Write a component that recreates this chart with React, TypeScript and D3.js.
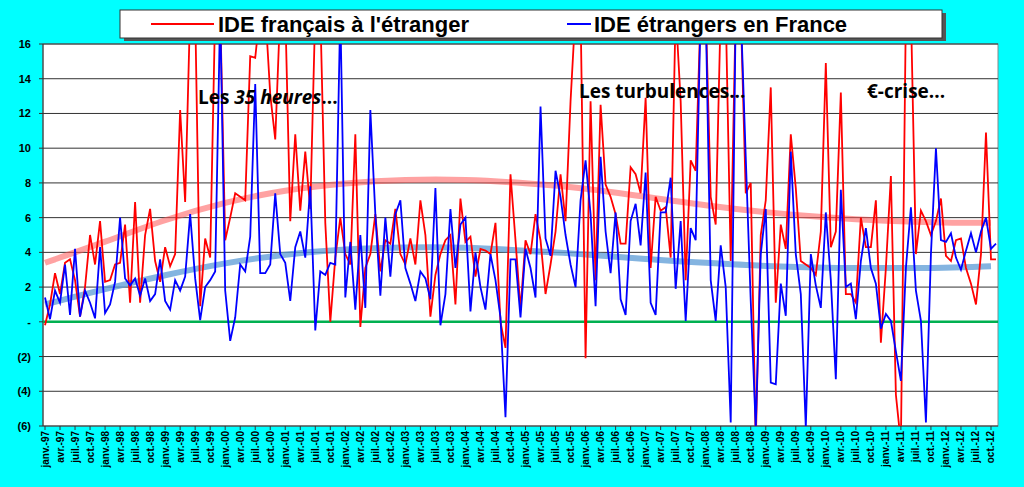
import React from 'react';
import * as d3 from 'd3';

// monthly series, janv.-97 .. oct.-12 (values above 16 / below -6 are clipped)
const frenchAbroad: number[] = [
  -0.2, 1.0, 2.8, 1.6, 3.4, 3.6, 2.4, 0.3, 2.0, 5.0, 3.3, 5.8, 2.3, 2.4, 3.3, 3.4,
  5.6, 1.1, 6.9, 1.1, 5.0, 6.5, 3.5, 2.3, 4.3, 3.2, 3.9, 12.2, 6.9, 18, 18, 0.9,
  4.8, 3.7, 18, 18, 4.7, 6.0, 7.4, 7.2, 7.0, 15.3, 15.2, 18, 18, 13.1, 10.5, 18,
  18, 5.8, 10.8, 6.4, 9.8, 6.5, 18, 18, 5.7, 0.0, 3.7, 6.0, 3.9, 3.3, 10.8, -0.3,
  3.1, 3.9, 6.2, 2.9, 4.7, 4.5, 6.5, 3.9, 3.3, 4.8, 3.3, 7.0, 5.0, 0.3, 2.7, 3.9,
  4.7, 5.0, 1.0, 7.1, 4.6, 4.9, 2.6, 4.2, 4.1, 3.9, 5.7, 0.0, -1.5, 8.5, 4.7, 0.7,
  4.7, 3.9, 6.2, 4.7, 1.6, 3.3, 5.2, 8.5, 5.8, 12.7, 18, 18, -2.1, 12.7, 2.4, 12.5,
  7.9, 7.2, 6.2, 4.5, 4.5, 8.9, 8.5, 7.4, 12.9, 3.1, 7.2, 6.4, 6.6, 3.7, 18, 12.7,
  2.4, 9.3, 8.7, 18, 18, 7.2, 5.6, 18, 18, 3.5, 18, 18, 7.4, 8.0, -7, 5.0,
  7.0, 13.5, 1.1, 5.6, 4.2, 10.8, 7.7, 3.5, 3.3, 3.1, 2.7, 5.2, 14.9, 4.3, 5.2, 13.2,
  1.6, 1.6, 1.1, 6.0, 4.3, 4.3, 7.0, -1.2, 3.1, 8.4, -4.2, -7, 18, 18, 3.9, 6.4,
  5.8, 5.0, 5.8, 7.1, 3.8, 3.5, 4.7, 4.8, 3.1, 2.2, 1.0, 3.9, 10.9, 3.6, 3.6,
];

const foreignInFrance: number[] = [
  1.4, 0.15, 1.8, 1.1, 3.3, 0.4, 4.2, 0.3, 1.8, 1.1, 0.2, 4.3, 0.5, 1.0, 2.3, 6.0,
  2.5, 2.1, 2.5, 1.5, 2.5, 1.2, 1.6, 3.6, 1.2, 0.7, 2.4, 1.8, 2.6, 6.2, 2.5, 0.1,
  2.0, 2.4, 2.9, 18, 1.8, -1.1, 0.25, 3.3, 2.9, 4.9, 13.7, 2.8, 2.8, 3.3, 7.4, 3.9,
  3.4, 1.2, 4.3, 5.2, 3.7, 7.8, -0.5, 2.9, 2.7, 3.4, 3.3, 18, 1.4, 4.6, 0.7, 5.0,
  0.8, 12.2, 6.2, 1.5, 6.0, 2.6, 6.2, 7.0, 3.1, 2.2, 1.2, 2.9, 2.5, 1.3, 7.7, -0.2,
  1.6, 6.5, 3.1, 5.6, 6.0, 0.6, 4.0, 2.0, 0.7, 3.9, 2.4, 0.25, -5.5, 3.6, 3.6, 0.25,
  4.2, 3.1, 1.4, 12.4, 4.8, 3.8, 8.7, 7.2, 5.0, 3.3, 2.0, 7.0, 9.3, 6.2, 0.9, 9.5,
  5.2, 2.8, 6.3, 1.3, 0.4, 5.8, 6.8, 4.4, 8.6, 1.1, 0.4, 6.3, 6.3, 8.3, 1.9, 5.8,
  0.05, 5.4, 4.7, 18, 18, 2.4, 0.05, 4.4, 2.0, -5.8, 18, 18, 9.5, 1.2, -6.1, 3.9,
  6.5, -3.5, -3.6, 2.2, 0.35, 9.8, 3.9, 1.6, -6.1, 3.9, 2.1, 0.8, 6.3, 2.4, -3.3, 7.6,
  2.0, 2.2, 0.15, 3.5, 5.4, 3.1, 2.2, -0.4, 0.45, 0.05, -1.7, -3.4, 3.1, 6.6, 1.8, 0.05,
  -5.8, 3.9, 10.0, 4.7, 4.6, 5.1, 3.7, 3.0, 4.1, 5.1, 4.0, 5.2, 6.0, 4.2, 4.5,
];

const trendMonths: number[] = [0, 12, 24, 36, 48, 60, 72, 84, 96, 108, 120, 132, 144, 156, 168, 180, 189];
const frenchTrend: number[] = [3.4, 4.6, 5.9, 6.9, 7.6, 8.0, 8.2, 8.2, 8.0, 7.7, 7.2, 6.7, 6.3, 6.0, 5.8, 5.7, 5.7];
const foreignTrend: number[] = [1.0, 1.9, 2.7, 3.4, 3.9, 4.2, 4.3, 4.3, 4.1, 3.9, 3.6, 3.4, 3.2, 3.1, 3.1, 3.1, 3.2];

const monthNames: string[] = ['janv.', 'févr.', 'mars', 'avr.', 'mai', 'juin', 'juil.', 'août', 'sept.', 'oct.', 'nov.', 'déc.'];
const yTicks: number[] = [-6, -4, -2, 0, 2, 4, 6, 8, 10, 12, 14, 16];

const fmtTick = (v: number) => (v === 0 ? '-' : v < 0 ? `(${-v})` : `${v}`);

const App: React.FC = () => {
  const width = 1024;
  const height = 487;
  const left = 43;
  const right = 998;
  const top = 44;
  const bottom = 426;

  const n = frenchAbroad.length;
  const x = d3.scaleLinear().domain([-0.4, n - 0.6]).range([left, right]);
  const y = d3.scaleLinear().domain([-6, 16]).range([bottom, top]);

  const line = d3
    .line<number>()
    .x((_, i) => x(i))
    .y((d) => y(d));
  const trendLine = d3
    .line<number>()
    .x((_, i) => x(trendMonths[i]))
    .y((d) => y(d))
    .curve(d3.curveBasis);

  const labels = d3.range(0, n, 3).map((i) => ({
    i,
    text: `${monthNames[i % 12]}-${String((97 + Math.floor(i / 12)) % 100).padStart(2, '0')}`,
  }));

  const font = 'Liberation Sans, Arial, sans-serif';

  return (
    <svg width={width} height={height} style={{ position: 'absolute', left: 0, top: 0 }}>
      <defs>
        <clipPath id="plot">
          <rect x={left} y={top} width={right - left} height={bottom - top} />
        </clipPath>
      </defs>
      <rect width={width} height={height} fill="#00ffff" />
      <rect x={left} y={top} width={right - left} height={bottom - top} fill="#fff" stroke="#888" />

      {yTicks.map((t) => (
        <g key={t}>
          <line x1={left} x2={right} y1={y(t)} y2={y(t)} stroke="#333" strokeWidth={1} />
          <line x1={left - 4} x2={left} y1={y(t)} y2={y(t)} stroke="#333" />
          <text x={31} y={y(t) + 4} textAnchor="end" fontFamily={font} fontWeight="bold" fontSize={11}>
            {fmtTick(t)}
          </text>
        </g>
      ))}
      <line x1={left} x2={left} y1={top} y2={bottom} stroke="#333" />

      <g clipPath="url(#plot)">
        <path d={trendLine(frenchTrend) ?? ''} fill="none" stroke="#ff5555" strokeOpacity={0.55} strokeWidth={6} />
        <path d={trendLine(foreignTrend) ?? ''} fill="none" stroke="#5b9bd5" strokeOpacity={0.75} strokeWidth={6} />
        <line x1={left} x2={right} y1={y(0)} y2={y(0)} stroke="#00b050" strokeWidth={2.5} />
        <path d={line(frenchAbroad) ?? ''} fill="none" stroke="#ff0000" strokeWidth={1.8} />
        <path d={line(foreignInFrance) ?? ''} fill="none" stroke="#0000ff" strokeWidth={1.8} />
      </g>

      {labels.map((l) => (
        <g key={l.i}>
          <line x1={x(l.i)} x2={x(l.i)} y1={bottom} y2={bottom + 4} stroke="#333" />
          <text
            transform={`translate(${x(l.i) + 3.5},${bottom + 5}) rotate(-90)`}
            textAnchor="end"
            fontFamily={font}
            fontWeight="bold"
            fontSize={10}
          >
            {l.text}
          </text>
        </g>
      ))}

      <rect x={124} y={13} width={822} height={28} fill="#555" />
      <rect x={120} y={10} width={822} height={28} fill="#fff" stroke="#333" />
      <line x1={151} x2={214} y1={24} y2={24} stroke="#ff0000" strokeWidth={2} />
      <text x={218} y={32} fontFamily={font} fontWeight="bold" fontSize={22}>IDE français à l'étranger</text>
      <line x1={567} x2={591} y1={24} y2={24} stroke="#0000ff" strokeWidth={2} />
      <text x={594} y={32} fontFamily={font} fontWeight="bold" fontSize={22}>IDE étrangers en France</text>

      <g fontFamily="Open Sans, sans-serif" fontWeight="bold" fontSize={19}>
        <text x={198} y={104}>
          Les <tspan fontStyle="italic">35 heures</tspan>...
        </text>
        <text x={579} y={98}>Les turbulences...</text>
        <text x={867} y={98}>€-crise...</text>
      </g>
    </svg>
  );
};

export default App;
